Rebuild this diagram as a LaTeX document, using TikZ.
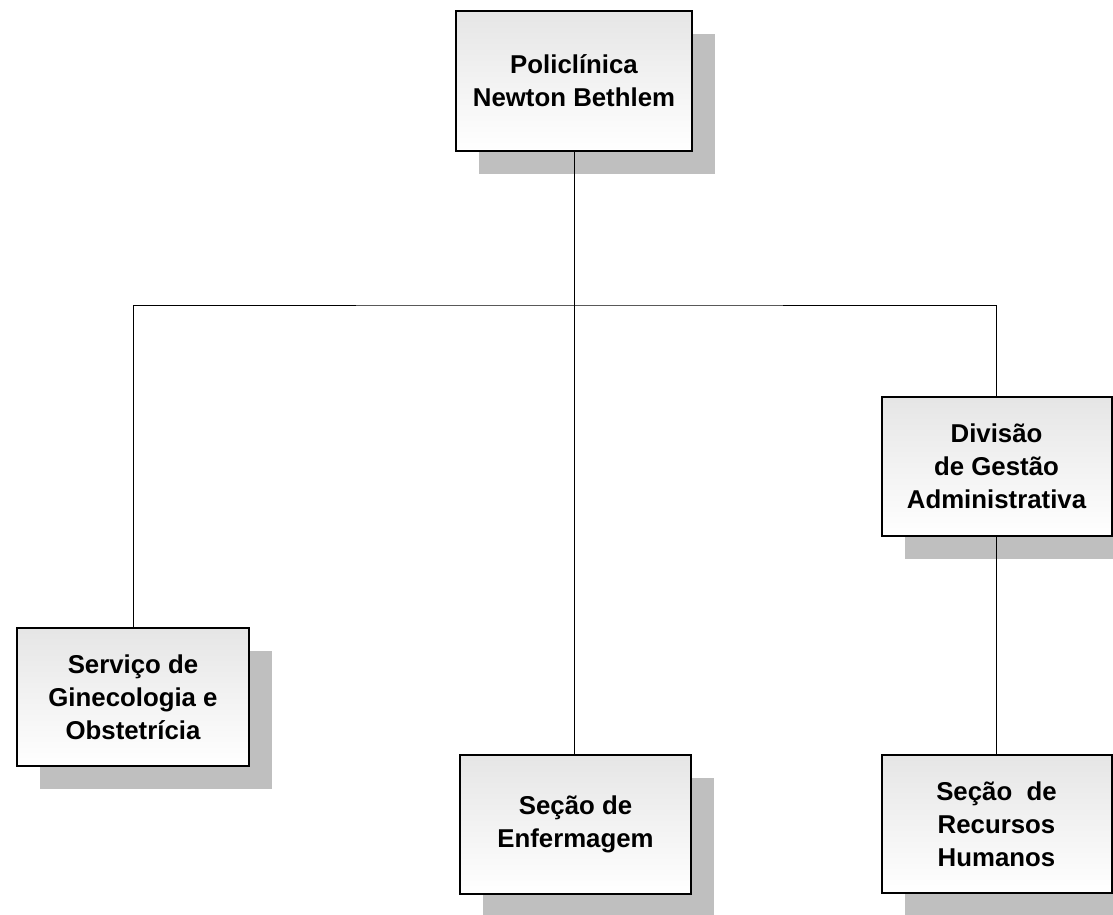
\documentclass[tikz,border=0pt]{standalone}
\usepackage{fontspec}
\setmainfont{Liberation Sans}
\usetikzlibrary{shadows}
\begin{document}
\begin{tikzpicture}[x=1pt,y=1pt,
  orgbox/.style={draw=black, line width=2pt, top color=black!10, bottom color=white,
    align=center, inner sep=0pt,
    font=\fontsize{25.8}{33}\selectfont\bfseries,
    drop shadow={shadow xshift=23pt, shadow yshift=-23pt, fill=black!25, opacity=1}},
  link/.style={draw=black, line width=1pt}]
\useasboundingbox (0,0) rectangle (1113,-915);
\clip (0,0) rectangle (1113,-915);
\node[orgbox, minimum width=236pt, minimum height=140pt] (top) at (574,-81) {Policlínica\\Newton Bethlem};
\node[orgbox, minimum width=230pt, minimum height=139pt] (div) at (996.5,-466.5) {Divisão\\de Gestão\\Administrativa};
\node[orgbox, minimum width=232pt, minimum height=138pt] (serv) at (133,-697) {Serviço de\\Ginecologia e\\Obstetrícia};
\node[orgbox, minimum width=231pt, minimum height=139pt] (enf) at (575.5,-824.5) {Seção de\\Enfermagem};
\node[orgbox, minimum width=230pt, minimum height=138pt] (rh) at (996.5,-824) {Seção\ \ de\\Recursos\\Humanos};
\coordinate (j) at (574,-305);
\draw[link] (top.south) -- (j);
\draw[link] (serv.north) |- (j) -| (div.north);
\draw[link] (j) -- (j |- enf.north);
\draw[link] (div.south) -- (rh.north);
\end{tikzpicture}
\end{document}
